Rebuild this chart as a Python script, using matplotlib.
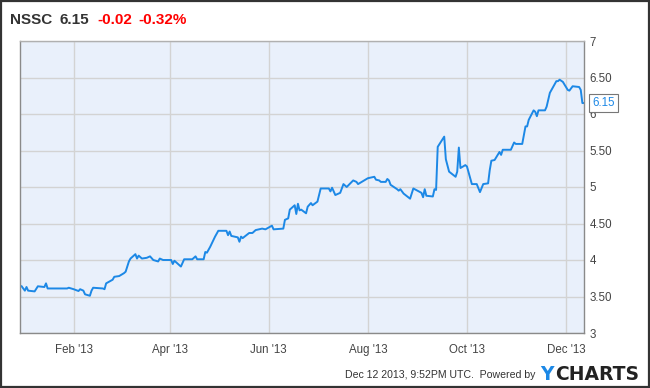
import pandas as pd
import matplotlib
matplotlib.use('Agg')
import matplotlib.pyplot as plt
from matplotlib.patches import Rectangle

plt.rcParams['font.family'] = ['Liberation Sans', 'DejaVu Sans']

# NSSC daily closes
dates = [
    '2012-12-31', '2013-01-02', '2013-01-03', '2013-01-04', '2013-01-08',
    '2013-01-10', '2013-01-14', '2013-01-15', '2013-01-16', '2013-01-28',
    '2013-01-29', '2013-02-01', '2013-02-04', '2013-02-05', '2013-02-07',
    '2013-02-08', '2013-02-11', '2013-02-12', '2013-02-13', '2013-02-19',
    '2013-02-20', '2013-02-21', '2013-02-25', '2013-02-26', '2013-03-01',
    '2013-03-04', '2013-03-05', '2013-03-07', '2013-03-08', '2013-03-11',
    '2013-03-12', '2013-03-13', '2013-03-15', '2013-03-18', '2013-03-20',
    '2013-03-22', '2013-03-25', '2013-03-26', '2013-03-28', '2013-04-02',
    '2013-04-03', '2013-04-04', '2013-04-08', '2013-04-10', '2013-04-15',
    '2013-04-17', '2013-04-18', '2013-04-22', '2013-04-23', '2013-04-24',
    '2013-04-26', '2013-04-29', '2013-05-01', '2013-05-06', '2013-05-07',
    '2013-05-08', '2013-05-09', '2013-05-13', '2013-05-14', '2013-05-15',
    '2013-05-16', '2013-05-20', '2013-05-22', '2013-05-24', '2013-05-28',
    '2013-05-30', '2013-06-03', '2013-06-04', '2013-06-10', '2013-06-11',
    '2013-06-13', '2013-06-14', '2013-06-17', '2013-06-18', '2013-06-19',
    '2013-06-20', '2013-06-21', '2013-06-24', '2013-06-25', '2013-06-27',
    '2013-06-28', '2013-07-01', '2013-07-03', '2013-07-08', '2013-07-09',
    '2013-07-10', '2013-07-12', '2013-07-15', '2013-07-17', '2013-07-19',
    '2013-07-23', '2013-07-25', '2013-07-26', '2013-08-01', '2013-08-05',
    '2013-08-06', '2013-08-08', '2013-08-09', '2013-08-12', '2013-08-13',
    '2013-08-14', '2013-08-15', '2013-08-19', '2013-08-20', '2013-08-21',
    '2013-08-23', '2013-08-27', '2013-08-29', '2013-09-03', '2013-09-04',
    '2013-09-05', '2013-09-06', '2013-09-10', '2013-09-11', '2013-09-12',
    '2013-09-13', '2013-09-17', '2013-09-18', '2013-09-20', '2013-09-24',
    '2013-09-25', '2013-09-26', '2013-09-27', '2013-09-30', '2013-10-01',
    '2013-10-04', '2013-10-07', '2013-10-09', '2013-10-11', '2013-10-14',
    '2013-10-15', '2013-10-16', '2013-10-18', '2013-10-21', '2013-10-22',
    '2013-10-23', '2013-10-28', '2013-10-30', '2013-10-31', '2013-11-04',
    '2013-11-06', '2013-11-07', '2013-11-08', '2013-11-11', '2013-11-12',
    '2013-11-13', '2013-11-14', '2013-11-18', '2013-11-19', '2013-11-21',
    '2013-11-25', '2013-11-26', '2013-11-27', '2013-11-29', '2013-12-02',
    '2013-12-03', '2013-12-05', '2013-12-09', '2013-12-10', '2013-12-11',
    '2013-12-12',
]
prices = [
    3.64, 3.58, 3.63, 3.58, 3.57,
    3.64, 3.63, 3.68, 3.61, 3.61,
    3.62, 3.60, 3.575, 3.60, 3.58,
    3.53, 3.51, 3.58, 3.62, 3.61,
    3.60, 3.68, 3.73, 3.77, 3.78,
    3.82, 3.84, 3.98, 4.02, 4.08,
    4.02, 4.06, 4.02, 4.03, 4.05,
    4.00, 3.98, 4.02, 4.00, 4.00,
    3.945, 3.99, 3.91, 4.01, 4.01,
    4.05, 4.01, 4.01, 4.11, 4.10,
    4.18, 4.32, 4.40, 4.40, 4.34,
    4.39, 4.33, 4.31, 4.25, 4.32,
    4.30, 4.37, 4.37, 4.41, 4.43,
    4.42, 4.47, 4.42, 4.43, 4.55,
    4.57, 4.69, 4.75, 4.63, 4.77,
    4.68, 4.69, 4.64, 4.73, 4.78,
    4.75, 4.80, 4.98, 4.98, 4.94,
    4.99, 4.89, 4.92, 5.04, 5.00,
    5.09, 5.07, 5.04, 5.12, 5.14,
    5.10, 5.09, 5.07, 5.07, 5.11,
    5.09, 5.03, 4.97, 4.95, 4.97,
    4.91, 4.84, 4.98, 4.92, 4.86,
    4.97, 4.88, 4.87, 4.97, 4.96,
    5.55, 5.69, 5.38, 5.21, 5.14,
    5.21, 5.54, 5.26, 5.30, 5.28,
    5.04, 5.04, 4.93, 5.04, 5.05,
    5.23, 5.36, 5.37, 5.48, 5.44,
    5.51, 5.51, 5.61, 5.59, 5.59,
    5.83, 5.83, 5.92, 6.05, 6.03,
    5.97, 6.05, 6.05, 6.10, 6.29,
    6.45, 6.45, 6.47, 6.44, 6.33,
    6.32, 6.38, 6.37, 6.33, 6.15,
    6.15,
]

ticker = 'NSSC'
last_price = '6.15'
change = '-0.02'
change_pct = '-0.32%'
x_ticks = ['2013-02-01', '2013-04-01', '2013-06-01', '2013-08-01', '2013-10-01', '2013-12-01']
x_labels = ["Feb '13", "Apr '13", "Jun '13", "Aug '13", "Oct '13", "Dec '13"]
y_ticks = [3, 3.5, 4, 4.5, 5, 5.5, 6, 6.5, 7]
y_labels = ['3', '3.50', '4', '4.50', '5', '5.50', '6', '6.50', '7']

data = pd.DataFrame({'Date': pd.to_datetime(dates), 'Price': prices})

fig = plt.figure(figsize=(6.5, 3.88), dpi=100)
ax = fig.add_axes([20 / 650, 1 - 333 / 388, 564 / 650, 292 / 388])
ax.set_facecolor('#E9F0FB')

line_color = '#1C88E6'
ax.plot(data['Date'], data['Price'], color=line_color, linewidth=1.4, solid_joinstyle='round')

ax.set_xlim(pd.Timestamp('2012-12-30'), pd.Timestamp('2013-12-12'))
ax.set_ylim(3, 7)
ax.set_xticks(pd.to_datetime(x_ticks))
ax.set_xticklabels(x_labels)
ax.set_yticks(y_ticks)
ax.set_yticklabels(y_labels)
ax.yaxis.tick_right()
ax.tick_params(axis='both', length=0, labelsize=8.3, labelcolor='#444444')
ax.tick_params(axis='x', pad=8)
ax.tick_params(axis='y', pad=4)
ax.grid(True, color='#D3D3D3', linewidth=1)
ax.set_axisbelow(True)
for side in ['left', 'bottom', 'right', 'top']:
    ax.spines[side].set_color('#8A8A8A')
    ax.spines[side].set_linewidth(1)
ax.spines['top'].set_color('#B0B0B0')

# last value flag on the right axis
last = data.iloc[-1]
ax.annotate(last_price, xy=(last['Date'], last['Price']), xytext=(6, 0),
            textcoords='offset points', ha='left', va='center',
            fontsize=8.3, color=line_color, annotation_clip=False,
            bbox=dict(boxstyle='square,pad=0.25', fc='white', ec='#777777', lw=0.8))

# header
fig.text(10 / 650, 1 - 20 / 388, ticker, fontsize=11, fontweight='bold', color='#333333', va='center')
fig.text(60 / 650, 1 - 20 / 388, last_price, fontsize=11, fontweight='bold', color='#333333', va='center')
fig.text(97 / 650, 1 - 20 / 388, change, fontsize=11, fontweight='bold', color='#FF0000', va='center')
fig.text(138 / 650, 1 - 20 / 388, change_pct, fontsize=11, fontweight='bold', color='#FF0000', va='center')

# footer
fig.text(535 / 650, 1 - 375 / 388, 'Dec 12 2013, 9:52PM UTC.  Powered by', fontsize=7.6,
         color='#333333', ha='right', va='center')
fig.text(540 / 650, 1 - 374 / 388, 'Y', fontsize=13.5, fontweight='bold', color='#1C88E6',
         va='center', family='DejaVu Sans')
fig.text(555 / 650, 1 - 374 / 388, 'CHARTS', fontsize=13.5, fontweight='bold', color='#222222',
         va='center', family='DejaVu Sans')

# outer frame
fig.patches.append(Rectangle((0.001, 0.002), 0.997, 0.996, transform=fig.transFigure,
                             fill=False, edgecolor='#333333', linewidth=1.6))

fig.savefig('out.png', dpi=100)
